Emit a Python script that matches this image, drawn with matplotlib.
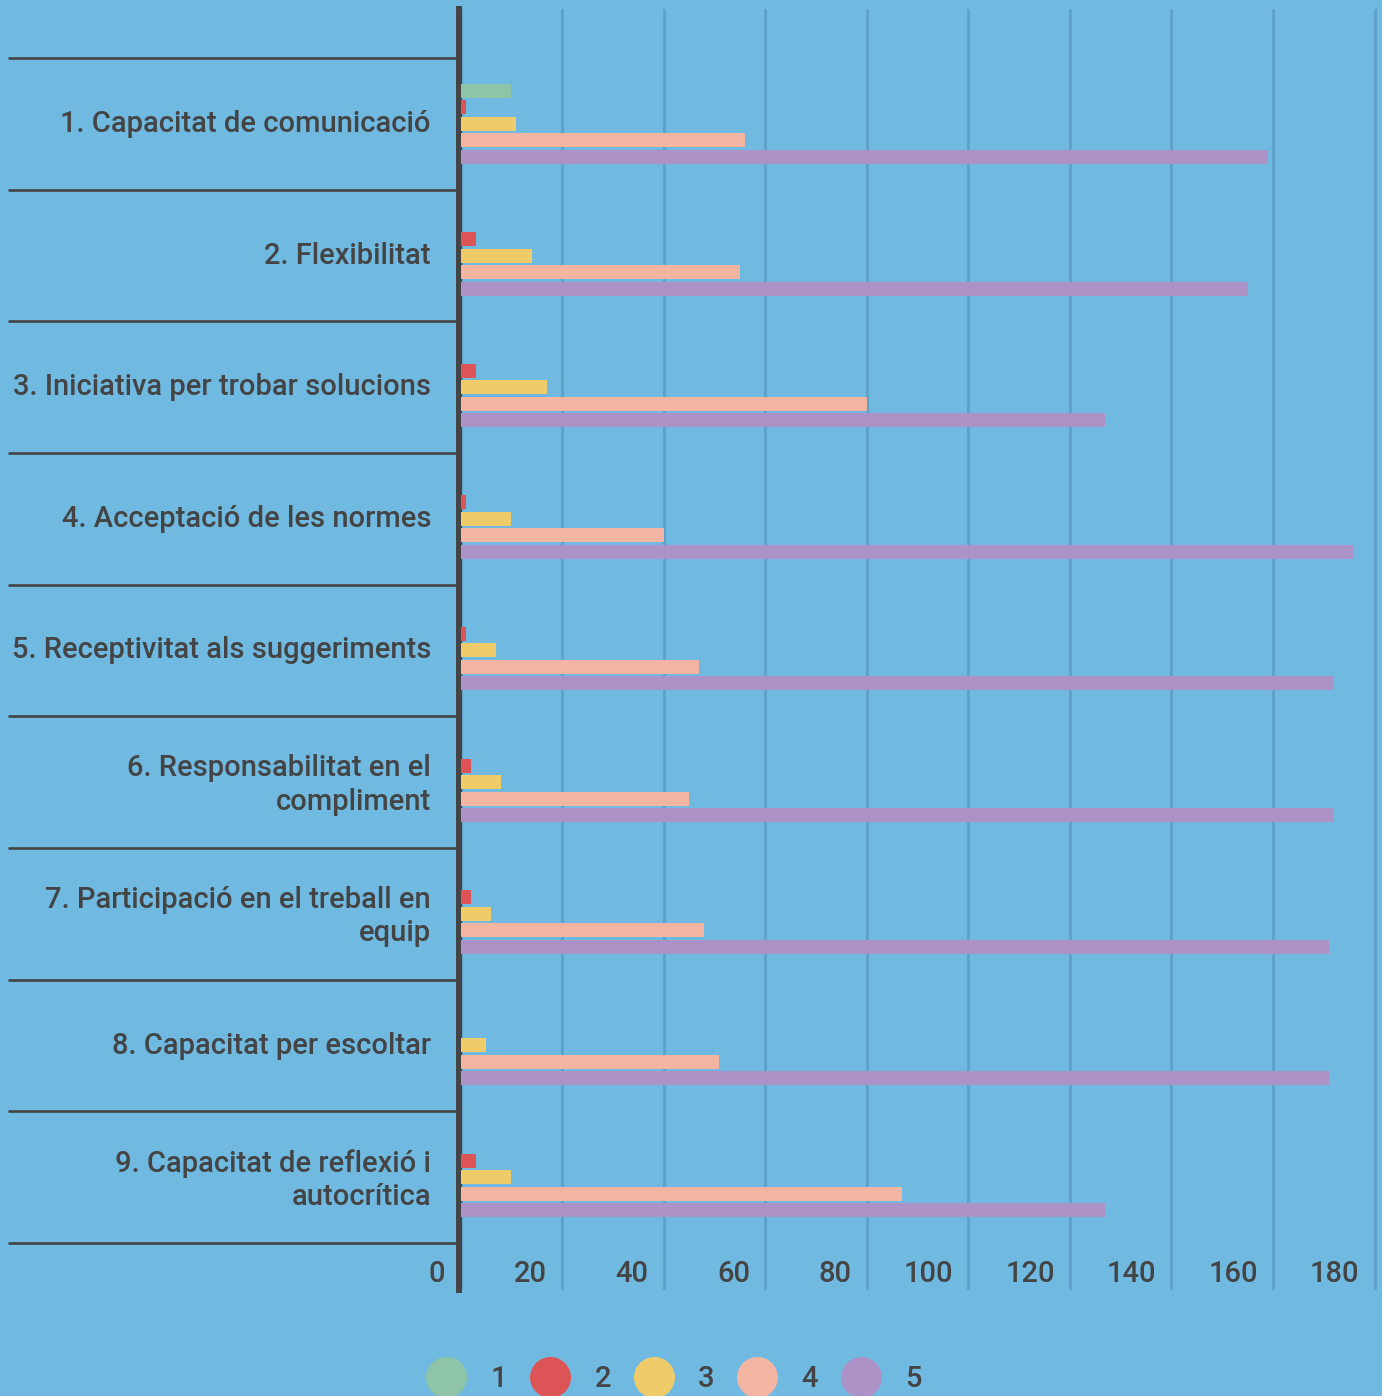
import matplotlib
matplotlib.use("Agg")
import matplotlib.pyplot as plt
import numpy as np
from matplotlib.lines import Line2D
from matplotlib import transforms

plt.rcParams['font.family'] = ['Roboto', 'DejaVu Sans']

categories = [
    "1. Capacitat de comunicació",
    "2. Flexibilitat",
    "3. Iniciativa per trobar solucions",
    "4. Acceptació de les normes",
    "5. Receptivitat als suggeriments",
    "6. Responsabilitat en el\ncompliment",
    "7. Participació en el treball en\nequip",
    "8. Capacitat per escoltar",
    "9. Capacitat de reflexió i\nautocrítica",
]
series_names = ["1", "2", "3", "4", "5"]
s1 = [10, 0, 0, 0, 0, 0, 0, 0, 0]
s2 = [1, 3, 3, 1, 1, 2, 2, 0, 3]
s3 = [11, 14, 17, 10, 7, 8, 6, 5, 10]
s4 = [56, 55, 80, 40, 47, 45, 48, 51, 87]
s5 = [159, 155, 127, 176, 172, 172, 171, 171, 127]
x_ticks = [0, 20, 40, 60, 80, 100, 120, 140, 160, 180]

colors = ["#8EC4A8", "#DD5457", "#F0CB6A", "#F3B5A1", "#AC92C6"]
bg = "#70BAE2"
grid_c = "#5FA3CA"
text_c = "#444444"
FS = 21
WEIGHT = 'medium'

W, H = 1382, 1396
fig = plt.figure(figsize=(W / 100, H / 100), dpi=100)
fig.patch.set_facecolor(bg)

x0_px = 460.5
scale = 5.078  # px per unit
top_px, bot_px = 9, 1290
ax = fig.add_axes([x0_px / W, (H - bot_px) / H, (W - x0_px) / W, (bot_px - top_px) / H])
ax.set_facecolor(bg)
for s in ax.spines.values():
    s.set_visible(False)

ax.set_xlim(0, (W - x0_px) / scale)
band = (1243 - 58) / 9
ax.set_ylim(8.5 + (bot_px - 1243) / band, -0.5 - (58 - top_px) / band)

ax.set_xticks(x_ticks)
ax.tick_params(axis='x', length=0, labelbottom=False)
ax.grid(axis='x', color=grid_c, lw=2.2, zorder=0)
ax.set_axisbelow(True)

y = np.arange(len(categories))
step = 16.5 / band
h = 14 / band
all_s = [s1, s2, s3, s4, s5]
for i, (vals, c) in enumerate(zip(all_s, colors)):
    ax.barh(y + (i - 2) * step, vals, height=h, color=c, zorder=3, label=series_names[i])

# axis line
ax.axvline(-1.5 / scale, color=text_c, lw=4.3, zorder=2, clip_on=False)
# category separators
ax.hlines(np.arange(-0.5, len(categories)), (8 - x0_px) / scale, (456 - x0_px) / scale,
          color=text_c, lw=1.9, clip_on=False)

ax.set_yticks(y - 3 / band)
ax.set_yticklabels(categories, fontsize=FS, color=text_c, fontweight=WEIGHT)
ax.tick_params(axis='y', length=0, pad=(x0_px - 431) * 0.72)
for lbl in ax.get_yticklabels():
    lbl.set_linespacing(1.25)

trans = transforms.blended_transform_factory(ax.transData, ax.transAxes) + \
    transforms.ScaledTranslation(-15 / 100, 0, fig.dpi_scale_trans)
for v in x_ticks:
    ax.text(v, (bot_px - 1281.7) / (bot_px - top_px), str(v), transform=trans,
            ha='right', va='baseline', fontsize=FS, color=text_c, fontweight=WEIGHT)

handles = [Line2D([], [], marker='o', linestyle='none', markersize=28.5,
                  markerfacecolor=c, markeredgecolor=c) for c in colors]
fs = FS * 100 / 72
leg = fig.legend(handles, series_names, loc='center left',
                 bbox_to_anchor=(427 / W, (H - 1379) / H), ncol=5, frameon=False,
                 prop={'size': FS, 'weight': WEIGHT}, handlelength=39 / fs,
                 handletextpad=25 / fs, columnspacing=23 / fs, borderpad=0, borderaxespad=0)
for t in leg.get_texts():
    t.set_color(text_c)

fig.savefig("out.png", dpi=100, facecolor=bg)
